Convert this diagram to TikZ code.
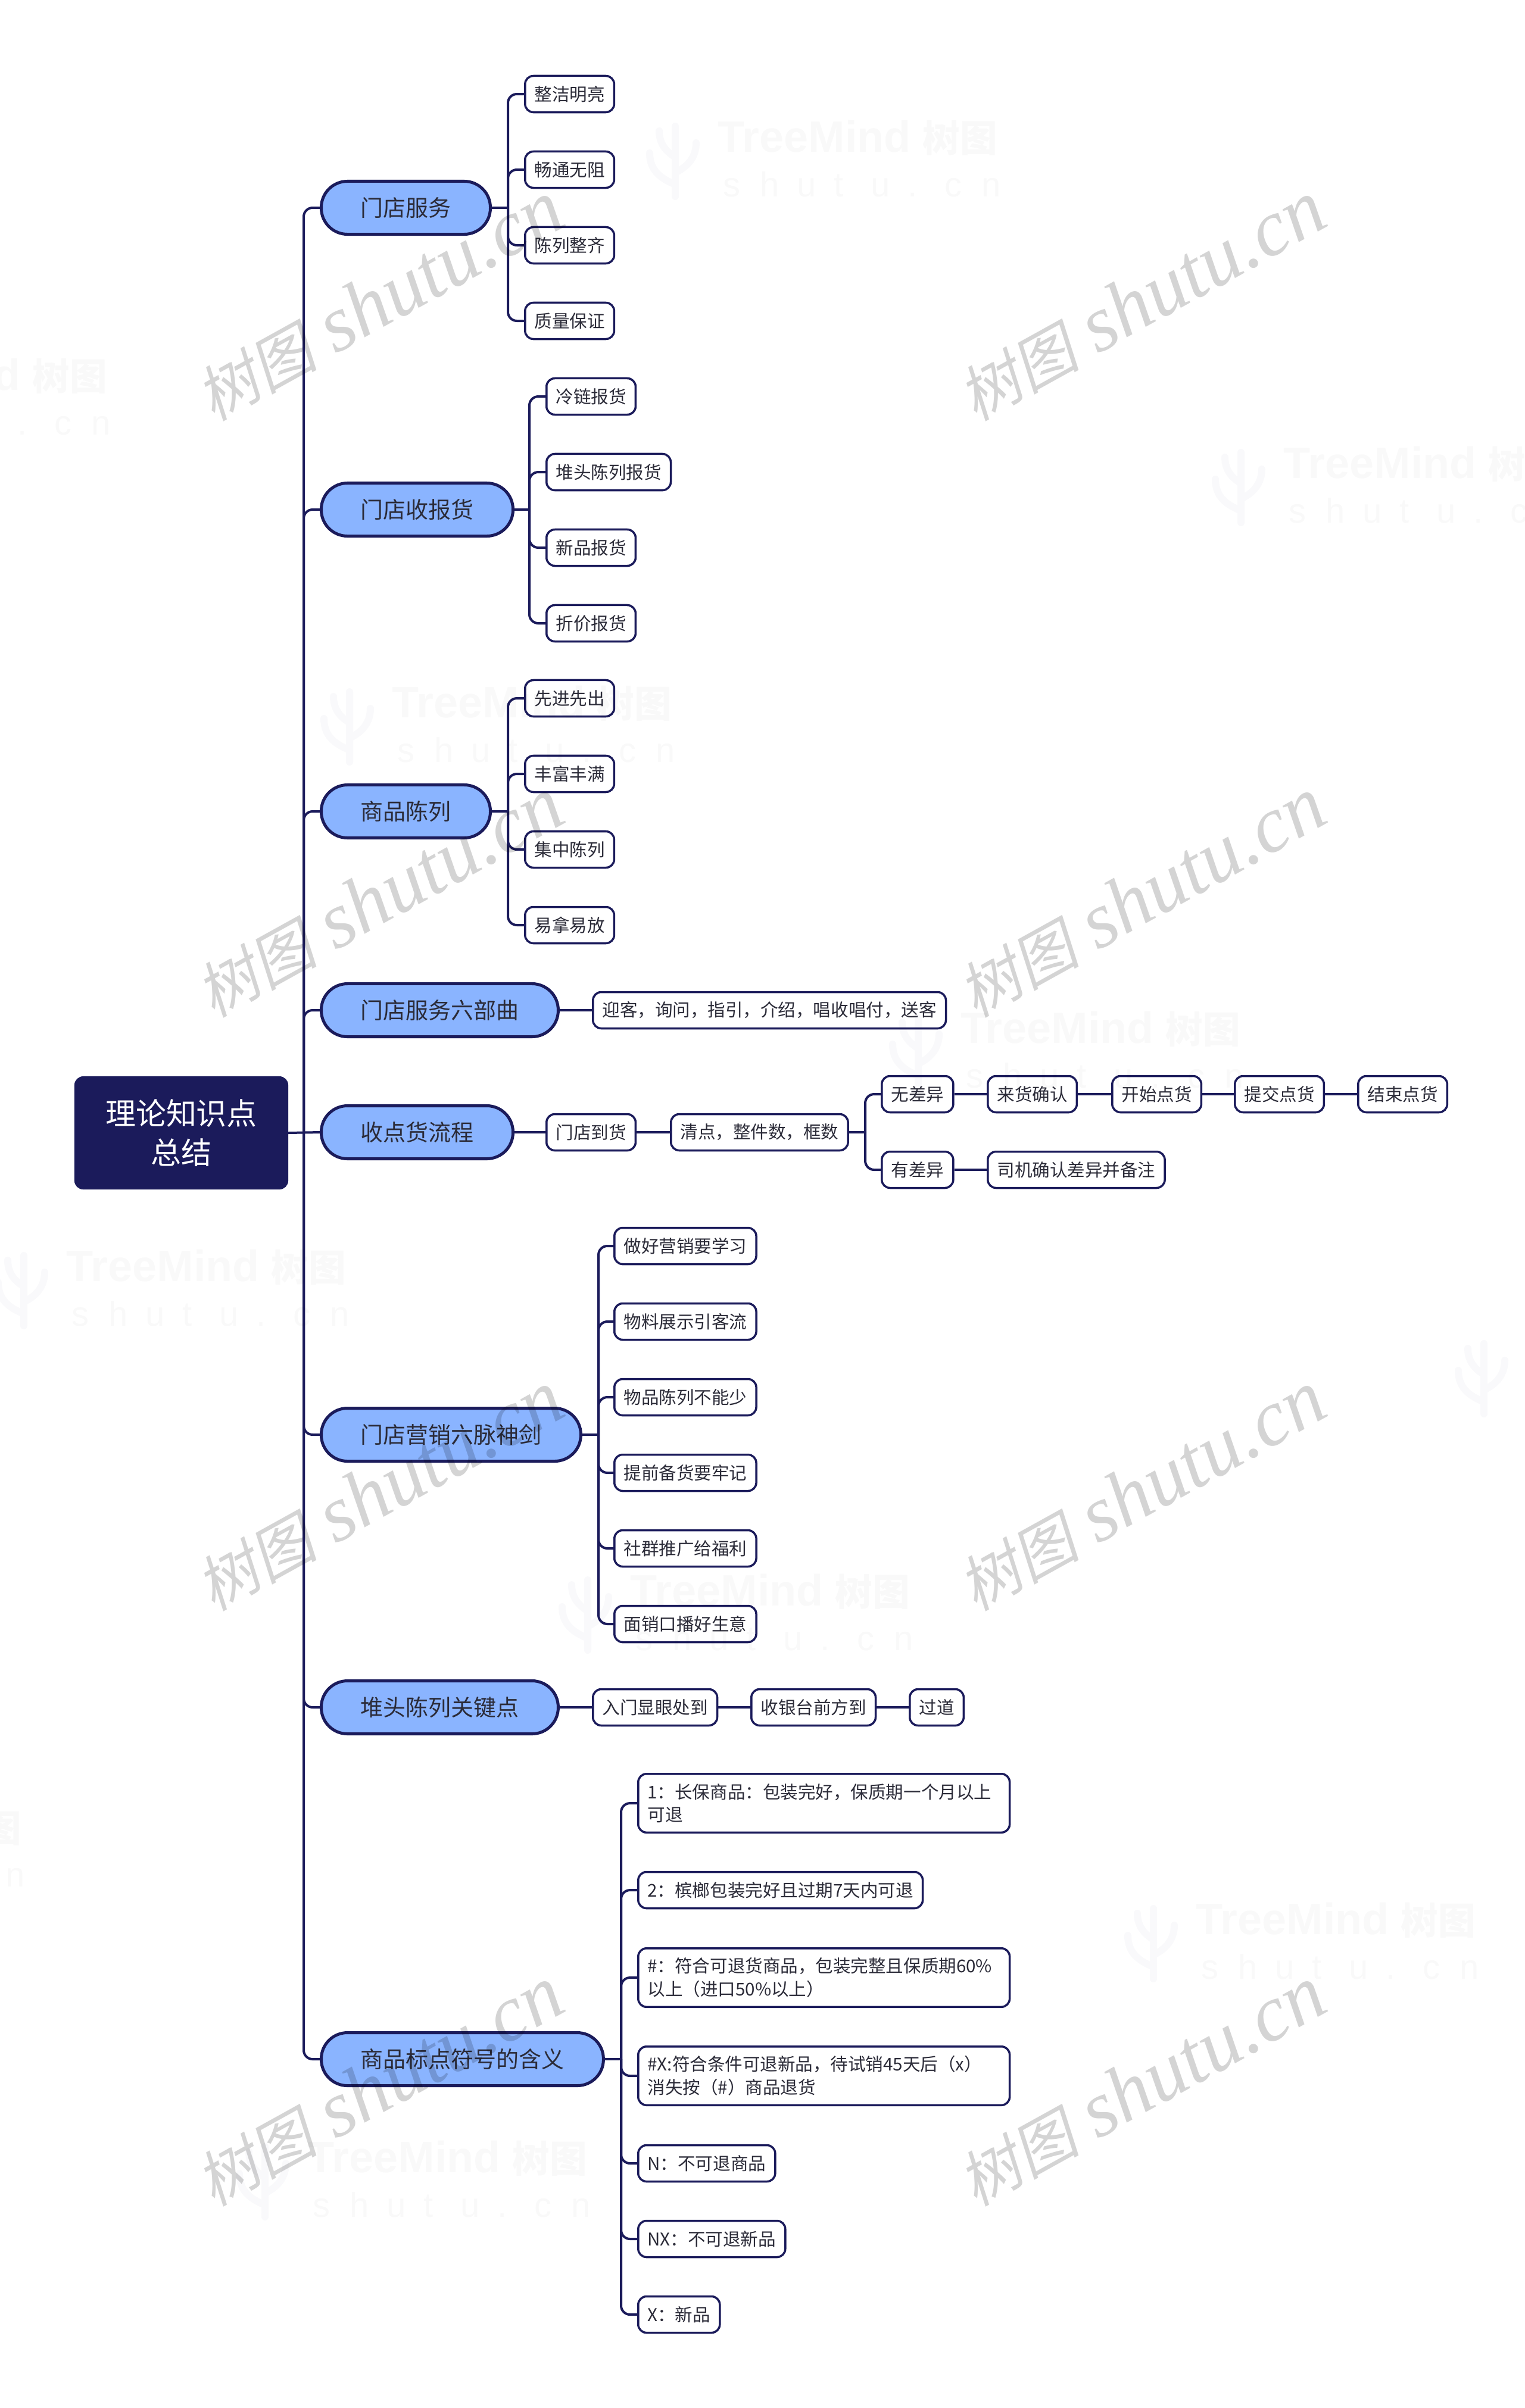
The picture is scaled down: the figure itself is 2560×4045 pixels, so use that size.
\documentclass[tikz,border=0pt]{standalone}
\usepackage{fontspec}
\setmainfont{Noto Sans CJK SC}
\newfontfamily\wmlatin{Liberation Serif}
\newfontfamily\wmcjk[FakeSlant=0.2]{Noto Sans CJK SC}
\newfontfamily\tmlatin{Liberation Sans}
\definecolor{navy}{HTML}{1B1B5B}
\definecolor{sky}{HTML}{8AB4FF}
\definecolor{ink}{HTML}{2B2B38}
\tikzset{
  x=0.01cm,y=-0.01cm,
  rootbox/.style={draw=navy,fill=navy,line width=0.02cm,rounded corners=0.14cm,text=white,align=center,
    minimum width=3.57cm,minimum height=1.88cm,inner sep=0pt,font=\fontsize{14.5}{18.5}\selectfont},
  mainbox/.style={draw=navy,fill=sky,line width=0.05cm,rounded corners=0.44cm,text=ink,anchor=west,
    minimum height=0.89cm,inner xsep=0.66cm,inner ysep=0pt,font=\fontsize{10.8}{13}\selectfont},
  leafbox/.style={draw=navy,fill=white,line width=0.035cm,rounded corners=0.14cm,text=ink,anchor=west,
    minimum height=0.61cm,inner xsep=0.1575cm,inner ysep=0pt,font=\fontsize{8.4}{11}\selectfont},
  longbox/.style={leafbox,align=left,minimum height=0.985cm,text width=5.92cm},
  conn/.style={draw=navy,line width=0.04cm,rounded corners=0.15cm},
  wm/.style={text=black,opacity=0.17,rotate=29,inner sep=0pt},
  faint/.style={text=black,opacity=0.022,anchor=west,inner sep=0pt},
  faintsub/.style={text=black,opacity=0.022,anchor=base west,inner sep=0pt},
  faintlogo/.style={draw=navy,opacity=0.025,line width=0.12cm,line cap=round},
}
\newcommand{\subch}[1]{\makebox[0.62cm][l]{#1}}
\newcommand{\treemark}[2]{%
  \node[faint] (tm#1#2) at (#1,#2) {\fontsize{21}{24}\tmlatin\bfseries TreeMind\hspace{0.2cm}\fontsize{17.8}{24}\fontspec{Noto Sans CJK SC}树图};
  \node[faintsub] (ts#1#2) at (#1+9,#2+98) {\fontsize{16.5}{20}\tmlatin\subch{s}\subch{h}\subch{u}\subch{t}\subch{u}\subch{.}\subch{c}\subch{n}};
  \draw[faintlogo] (#1-71,#2-20) -- (#1-71,#2+98)
    (#1-114,#2+25) .. controls (#1-114,#2+55) and (#1-95,#2+68) .. (#1-71,#2+78)
    (#1-98,#2-12) .. controls (#1-98,#2+8) and (#1-88,#2+22) .. (#1-71,#2+32)
    (#1-36,#2+8) .. controls (#1-36,#2+32) and (#1-50,#2+48) .. (#1-71,#2+58);
}
\begin{document}
\begin{tikzpicture}
\useasboundingbox (0,0) rectangle (2560,4045);
\fill[white] (0,0) rectangle (2560,4045);

\node[rootbox] (root) at (304.5,1903) {理论知识点\\总结};
\node[mainbox] (m1) at (537,349) {门店服务};
\node[mainbox] (m2) at (537,856) {门店收报货};
\node[mainbox] (m3) at (537,1363) {商品陈列};
\node[mainbox] (m4) at (537,1697) {门店服务六部曲};
\node[mainbox] (m5) at (537,1902) {收点货流程};
\node[mainbox] (m6) at (537,2410) {门店营销六脉神剑};
\node[mainbox] (m7) at (537,2868) {堆头陈列关键点};
\node[mainbox] (m8) at (537,3459) {商品标点符号的含义};

\node[leafbox] (a1) at (880,158) {整洁明亮};
\node[leafbox] (a2) at (880,285) {畅通无阻};
\node[leafbox] (a3) at (880,412) {陈列整齐};
\node[leafbox] (a4) at (880,539) {质量保证};

\node[leafbox] (b1) at (916,666) {冷链报货};
\node[leafbox] (b2) at (916,793) {堆头陈列报货};
\node[leafbox] (b3) at (916,920) {新品报货};
\node[leafbox] (b4) at (916,1047) {折价报货};

\node[leafbox] (c1) at (880,1173) {先进先出};
\node[leafbox] (c2) at (880,1300) {丰富丰满};
\node[leafbox] (c3) at (880,1427) {集中陈列};
\node[leafbox] (c4) at (880,1554) {易拿易放};

\node[leafbox] (d1) at (994,1697) {迎客，询问，指引，介绍，唱收唱付，送客};

\node[leafbox] (e1) at (916,1902) {门店到货};
\node[leafbox] (e2) at (1125,1902) {清点，整件数，框数};
\node[leafbox] (e3) at (1479,1838) {无差异};
\node[leafbox] (e4) at (1657,1838) {来货确认};
\node[leafbox] (e5) at (1866,1838) {开始点货};
\node[leafbox] (e6) at (2072,1838) {提交点货};
\node[leafbox] (e7) at (2279,1838) {结束点货};
\node[leafbox] (e8) at (1479,1965) {有差异};
\node[leafbox] (e9) at (1657,1965) {司机确认差异并备注};

\node[leafbox] (f1) at (1030,2093) {做好营销要学习};
\node[leafbox] (f2) at (1030,2220) {物料展示引客流};
\node[leafbox] (f3) at (1030,2347) {物品陈列不能少};
\node[leafbox] (f4) at (1030,2474) {提前备货要牢记};
\node[leafbox] (f5) at (1030,2601) {社群推广给福利};
\node[leafbox] (f6) at (1030,2728) {面销口播好生意};

\node[leafbox] (g1) at (994,2868) {入门显眼处到};
\node[leafbox] (g2) at (1260,2868) {收银台前方到};
\node[leafbox] (g3) at (1526,2868) {过道};

\node[longbox] (h1) at (1070,3029) {1：长保商品：包装完好，保质期一个月以上\\可退};
\node[leafbox] (h2) at (1070,3175) {2：槟榔包装完好且过期7天内可退};
\node[longbox] (h3) at (1070,3322) {\#：符合可退货商品，包装完整且保质期60\%\\以上（进口50\%以上）};
\node[longbox] (h4) at (1070,3487) {\#X:符合条件可退新品，待试销45天后（x）\\消失按（\#）商品退货};
\node[leafbox] (h5) at (1070,3634) {N：不可退商品};
\node[leafbox] (h6) at (1070,3761) {NX：不可退新品};
\node[leafbox] (h7) at (1070,3888) {X：新品};

% trunk
\coordinate (tr) at (510,1903);
\draw[conn] (root.east) -- (m5.west);
\foreach \m in {m1,m2,m3,m4,m6,m7,m8} \draw[conn] (tr) |- (\m.west);

% branches
\coordinate (ba) at (853,349);
\coordinate (bb) at (889,856);
\coordinate (bc) at (853,1363);
\coordinate (bf) at (1005,2410);
\coordinate (be) at (1453,1902);
\coordinate (bh) at (1043,3459);
\draw[conn] (m1.east) -- (ba);
\draw[conn] (m2.east) -- (bb);
\draw[conn] (m3.east) -- (bc);
\draw[conn] (m6.east) -- (bf);
\draw[conn] (m8.east) -- (bh);
\foreach \n in {a1,a2,a3,a4} \draw[conn] (ba) |- (\n.west);
\foreach \n in {b1,b2,b3,b4} \draw[conn] (bb) |- (\n.west);
\foreach \n in {c1,c2,c3,c4} \draw[conn] (bc) |- (\n.west);
\foreach \n in {f1,f2,f3,f4,f5,f6} \draw[conn] (bf) |- (\n.west);
\foreach \n in {h1,h2,h3,h4,h5,h6,h7} \draw[conn] (bh) |- (\n.west);

\draw[conn] (m4.east) -- (d1.west);
\draw[conn] (m5.east) -- (e1.west);
\draw[conn] (e1.east) -- (e2.west);
\draw[conn] (e2.east) -- (be);
\draw[conn] (be) |- (e3.west);
\draw[conn] (be) |- (e8.west);
\draw[conn] (e3.east) -- (e4.west);
\draw[conn] (e4.east) -- (e5.west);
\draw[conn] (e5.east) -- (e6.west);
\draw[conn] (e6.east) -- (e7.west);
\draw[conn] (e8.east) -- (e9.west);
\draw[conn] (m7.east) -- (g1.west);
\draw[conn] (g1.east) -- (g2.west);
\draw[conn] (g2.east) -- (g3.west);

% watermarks
\foreach \wx in {637,1917} \foreach \wy in {506,1508,2505,3505}
  \node[wm] (w\wx\wy) at (\wx,\wy) {\fontsize{29}{36}\wmcjk 树图\hspace{0.3cm}\fontsize{38}{44}\wmlatin\itshape shutu.cn};

\clip (0,0) rectangle (2560,4045);
\treemark{1205}{232}
\treemark{2155}{780}
\treemark{658}{1182}
\treemark{1613}{1729}
\treemark{111}{2129}
\treemark{1058}{2674}
\treemark{2008}{3226}
\treemark{516}{3626}
\treemark{-290}{632}
\treemark{-434}{3071}
\treemark{2563}{2277}
\end{tikzpicture}
\end{document}
